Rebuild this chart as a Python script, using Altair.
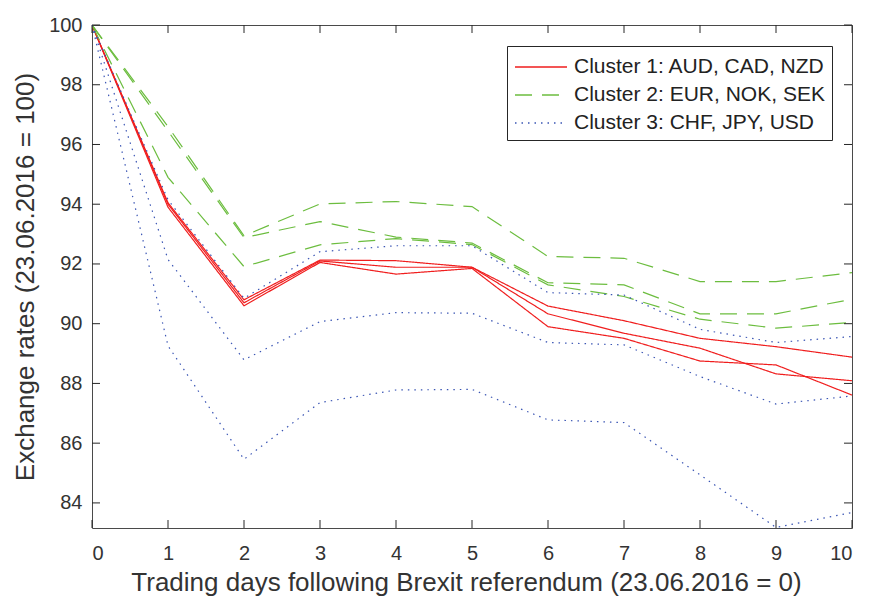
import altair as alt
import pandas as pd

days = list(range(11))
y_ticks = [84, 86, 88, 90, 92, 94, 96, 98, 100]

clusters = ["Cluster 1: AUD, CAD, NZD", "Cluster 2: EUR, NOK, SEK", "Cluster 3: CHF, JPY, USD"]
cluster_colors = ["#f01e1e", "#6cbd3f", "#3a55b4"]

AUD = [100, 94.05, 90.80, 92.13, 92.11, 91.89, 90.59, 90.10, 89.51, 89.23, 88.88]
CAD = [100, 94.00, 90.70, 92.10, 91.89, 91.89, 90.33, 89.68, 89.18, 88.32, 88.09]
NZD = [100, 93.90, 90.60, 92.05, 91.66, 91.85, 89.90, 89.51, 88.75, 88.62, 87.61]
EUR = [100, 96.60, 92.94, 94.01, 94.09, 93.92, 92.25, 92.19, 91.41, 91.41, 91.71]
NOK = [100, 96.45, 92.88, 93.42, 92.90, 92.70, 91.37, 91.30, 90.33, 90.33, 90.82]
SEK = [100, 94.90, 91.91, 92.64, 92.85, 92.65, 91.30, 90.91, 90.15, 89.85, 90.04]
CHF = [100, 94.15, 90.85, 92.41, 92.61, 92.61, 91.04, 90.96, 89.81, 89.37, 89.57]
JPY = [100, 92.15, 88.79, 90.07, 90.37, 90.35, 89.37, 89.29, 88.23, 87.31, 87.58]
USD = [100, 89.26, 85.46, 87.36, 87.78, 87.80, 86.78, 86.69, 84.94, 83.18, 83.68]

series = [
    ("AUD", clusters[0], AUD), ("CAD", clusters[0], CAD), ("NZD", clusters[0], NZD),
    ("EUR", clusters[1], EUR), ("NOK", clusters[1], NOK), ("SEK", clusters[1], SEK),
    ("CHF", clusters[2], CHF), ("JPY", clusters[2], JPY), ("USD", clusters[2], USD),
]
rows = []
for cur, cl, vals in series:
    for d, v in zip(days, vals):
        rows.append({"day": d, "rate": v, "currency": cur, "cluster": cl})
df = pd.DataFrame(rows)

W, H = 760, 503
FONT = "Liberation Sans"
AX = "#262626"

xscale = alt.Scale(domain=[0, 10], nice=False)
yscale = alt.Scale(domain=[83.16, 100], nice=False, zero=False)
xaxis = alt.Axis(values=days, title="Trading days following Brexit referendum (23.06.2016 = 0)",
                 grid=False, domain=False, ticks=False, labelPadding=15, titlePadding=6, titleX=374)
yaxis = alt.Axis(values=y_ticks, title="Exchange rates (23.06.2016 = 100)",
                 grid=False, domain=False, ticks=False, labelPadding=10, titlePadding=10)

legend = alt.Legend(
    title=None, orient="none", legendX=415, legendY=21,
    symbolType="M-2,0H2", symbolSize=676, symbolStrokeWidth=1.3, symbolOffset=13,
    labelFontSize=21, labelFont=FONT, labelColor="#222222", labelOffset=19, labelLimit=400,
    rowPadding=4, padding=7, strokeColor=AX, fillColor="white",
)

lines = alt.Chart(df).mark_line(strokeWidth=1.2, clip=True).encode(
    x=alt.X("day:Q", scale=xscale, axis=xaxis),
    y=alt.Y("rate:Q", scale=yscale, axis=yaxis),
    color=alt.Color("cluster:N", scale=alt.Scale(domain=clusters, range=cluster_colors), legend=legend),
    strokeDash=alt.StrokeDash("cluster:N", scale=alt.Scale(domain=clusters, range=[[1, 0], [17, 10], [1.5, 5]]), legend=legend),
    detail="currency:N",
)

xt = pd.DataFrame({"day": days})
yt = pd.DataFrame({"rate": y_ticks})

tick_bottom = alt.Chart(xt).mark_rule(color=AX, strokeWidth=1).encode(
    x=alt.X("day:Q", scale=xscale, axis=xaxis), y=alt.value(H - 8), y2=alt.value(H))
tick_top = alt.Chart(xt).mark_rule(color=AX, strokeWidth=1).encode(
    x=alt.X("day:Q", scale=xscale, axis=xaxis), y=alt.value(0), y2=alt.value(8))
tick_left = alt.Chart(yt).mark_rule(color=AX, strokeWidth=1).encode(
    y=alt.Y("rate:Q", scale=yscale, axis=yaxis), x=alt.value(0), x2=alt.value(8))
tick_right = alt.Chart(yt).mark_rule(color=AX, strokeWidth=1).encode(
    y=alt.Y("rate:Q", scale=yscale, axis=yaxis), x=alt.value(W - 8), x2=alt.value(W))

chart = alt.layer(lines, tick_bottom, tick_top, tick_left, tick_right).properties(
    width=W, height=H,
    padding={"left": 84, "top": 17, "right": 9, "bottom": 75},
    autosize=alt.AutoSizeParams(type="none"),
).configure_view(stroke="#4a4a4a", strokeWidth=1).configure_axis(
    labelFont=FONT, labelFontSize=20, labelColor="#333333",
    titleFont=FONT, titleFontSize=26, titleColor="#333333", titleFontWeight="normal",
)

chart.save("out.html", embed_options={"renderer": "svg", "actions": False})
